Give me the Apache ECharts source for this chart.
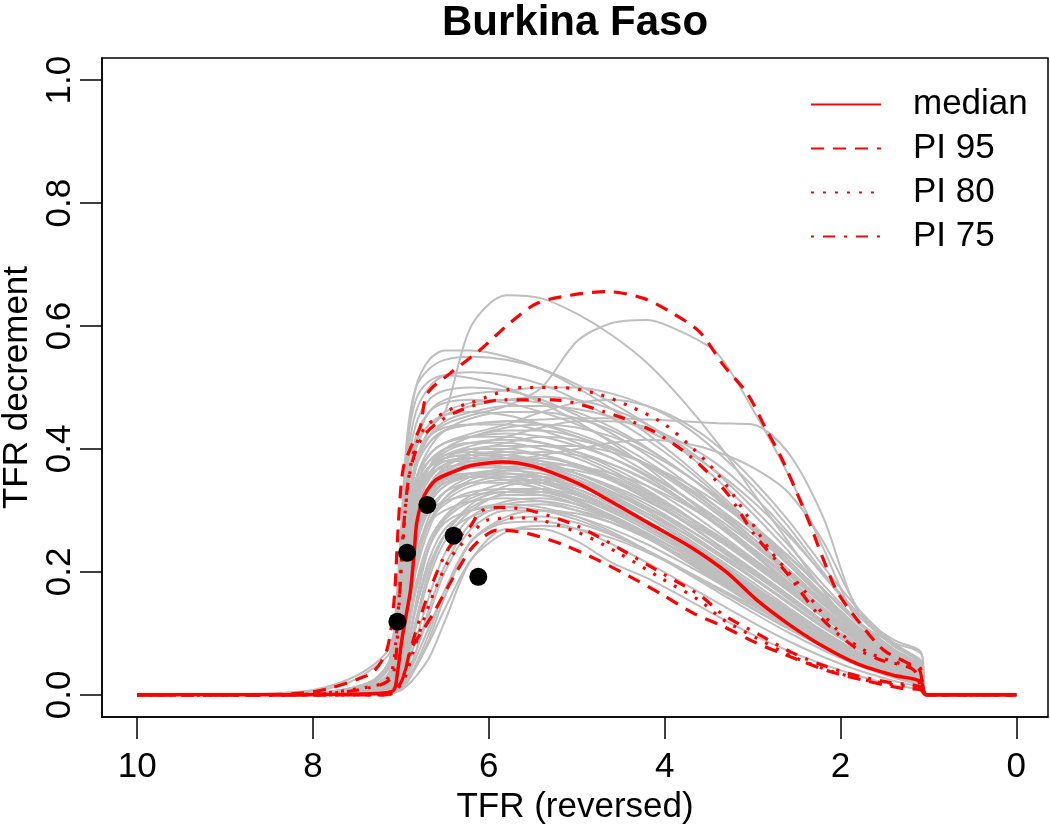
<!DOCTYPE html>
<html><head><meta charset="utf-8">
<script src="https://cdn.jsdelivr.net/npm/echarts@6/dist/echarts.min.js"></script>
<style>html,body{margin:0;padding:0;background:#fff}#c{width:1050px;height:828px}</style>
</head><body><div id="c"></div>
<script>
const titleText = 'Burkina Faso';
const xTicks = [0, 2, 4, 6, 8, 10];
const yTicks = [0, 0.2, 0.4, 0.6, 0.8, 1.0];

// x positions shared by all gray trajectories
const grayX = [10, 8.6, 8.0, 7.6, 7.3, 7.12, 7.02, 6.93, 6.83, 6.68, 6.5, 6.2, 5.8, 5.4, 5.0, 4.6, 4.2, 3.8, 3.4, 3.0, 2.6, 2.2, 1.8, 1.4, 1.08, 1.03, 0];
const grayTrajectories = [
[0, 0,0,0,0,.002,.006,.015,.03,.06,.12,.22,.27,.27,.25,.215,.19,.16,.128,.098,.072,.05,.031,.016,.008, 0,0],
[0, 0,0,0,.001,.003,.008,.02,.045,.09,.16,.25,.285,.29,.28,.26,.235,.205,.175,.145,.113,.083,.057,.035,.018, 0,0],
[0, 0,0,0,.001,.004,.012,.035,.07,.13,.2,.27,.3,.3,.29,.27,.245,.215,.183,.15,.118,.088,.06,.036,.02, 0,0],
[0, 0,0,.001,.003,.008,.03,.08,.14,.21,.26,.29,.305,.31,.3,.285,.26,.232,.2,.167,.132,.098,.068,.043,.025, 0,0],
[0, 0,0,.001,.003,.01,.05,.15,.23,.28,.3,.315,.32,.315,.3,.28,.255,.225,.192,.158,.124,.091,.062,.038,.02, 0,0],
[0, 0,0,.001,.004,.015,.07,.2,.27,.3,.315,.325,.33,.33,.32,.3,.275,.245,.21,.175,.138,.102,.07,.044,.025, 0,0],
[0, 0,0,.001,.003,.01,.04,.1,.17,.24,.28,.3,.305,.3,.285,.262,.234,.204,.172,.14,.108,.078,.052,.031,.016, 0,0],
[0, 0,.001,.003,.008,.02,.09,.22,.3,.335,.35,.36,.36,.35,.33,.305,.275,.242,.205,.168,.13,.095,.065,.04,.023, 0,0],
[0, 0,0,.002,.005,.015,.07,.19,.28,.33,.355,.37,.375,.37,.355,.33,.3,.265,.228,.19,.15,.11,.075,.046,.027, 0,0],
[0, 0,.001,.004,.012,.03,.12,.26,.33,.36,.37,.375,.37,.355,.335,.31,.28,.247,.212,.175,.137,.1,.068,.042,.024, 0,0],
[0, 0,0,.002,.006,.018,.08,.21,.3,.35,.375,.39,.395,.39,.375,.35,.32,.285,.245,.205,.163,.12,.082,.05,.03, 0,0],
[0, 0,0,.001,.004,.012,.05,.14,.24,.31,.35,.375,.39,.395,.39,.375,.35,.315,.275,.23,.183,.135,.09,.055,.032, 0,0],
[0, 0,.002,.006,.015,.04,.14,.28,.35,.38,.39,.395,.39,.375,.355,.33,.3,.265,.228,.19,.15,.11,.075,.046,.028, 0,0],
[0, 0,0,.002,.006,.02,.09,.23,.32,.37,.395,.41,.415,.41,.395,.37,.34,.305,.265,.222,.177,.13,.088,.054,.032, 0,0],
[0, 0,.001,.004,.01,.025,.1,.25,.34,.38,.4,.41,.41,.4,.385,.36,.33,.295,.255,.215,.172,.128,.088,.055,.033, 0,0],
[0, 0,0,.001,.004,.012,.06,.17,.27,.33,.37,.395,.41,.42,.415,.4,.375,.34,.3,.255,.205,.153,.104,.064,.038, 0,0],
[0, 0,.001,.003,.008,.022,.1,.24,.33,.37,.385,.39,.385,.37,.35,.325,.295,.26,.222,.183,.143,.104,.07,.043,.026, 0,0],
[0, 0,0,.002,.005,.016,.07,.2,.29,.34,.36,.37,.37,.365,.35,.33,.305,.275,.24,.2,.16,.118,.08,.049,.029, 0,0],
[0, 0,0,.001,.003,.01,.04,.12,.2,.27,.32,.35,.365,.37,.365,.35,.325,.295,.258,.218,.175,.13,.088,.054,.032, 0,0],
[0, 0,.001,.003,.009,.025,.11,.26,.34,.37,.38,.38,.37,.355,.335,.31,.28,.248,.213,.177,.14,.103,.07,.044,.026, 0,0],
[0, 0,.001,.004,.012,.03,.13,.3,.38,.42,.435,.44,.44,.43,.41,.385,.355,.318,.277,.232,.185,.137,.093,.058,.035, 0,0],
[0, 0,.002,.006,.016,.04,.15,.32,.4,.44,.455,.46,.455,.44,.42,.395,.362,.325,.283,.238,.19,.14,.095,.06,.037, 0,0],
[0, 0,.001,.003,.009,.025,.11,.27,.37,.43,.46,.475,.48,.475,.46,.435,.402,.363,.318,.268,.213,.157,.106,.066,.04, 0,0],
[0, 0,.002,.007,.02,.05,.18,.36,.44,.48,.495,.5,.495,.48,.455,.425,.39,.35,.305,.255,.203,.15,.102,.064,.04, 0,0],
[0, 0,.002,.008,.022,.055,.2,.38,.46,.5,.52,.525,.52,.505,.48,.45,.415,.373,.325,.272,.215,.158,.107,.067,.042, 0,0],
[0, 0,.003,.01,.025,.06,.22,.42,.5,.53,.545,.55,.545,.53,.505,.475,.44,.398,.35,.295,.235,.172,.116,.073,.046, 0,0],
[0, 0,.003,.01,.025,.06,.2,.4,.5,.545,.56,.56,.55,.53,.5,.465,.425,.38,.33,.277,.22,.162,.11,.07,.045, 0,0],
[0, 0,.001,.004,.012,.03,.12,.28,.38,.43,.455,.47,.48,.485,.48,.465,.44,.405,.36,.305,.245,.18,.12,.075,.047, 0,0],
[0, 0,.001,.004,.012,.03,.12,.28,.37,.41,.43,.44,.445,.448,.45,.45,.448,.445,.442,.44,.395,.29,.135,.09,.068, 0,0],
[0, 0,.002,.008,.02,.05,.18,.34,.41,.44,.46,.6,.65,.645,.62,.585,.54,.48,.41,.33,.25,.17,.1,.06,.045, 0,0],
[0, 0,.001,.005,.014,.035,.13,.3,.38,.42,.44,.455,.47,.5,.575,.605,.61,.59,.555,.465,.36,.24,.12,.085,.066, 0,0],
[0, 0,.001,.003,.008,.02,.08,.2,.29,.34,.36,.37,.38,.39,.4,.41,.415,.41,.395,.37,.33,.25,.14,.08,.055, 0,0],
[0, 0,.001,.004,.01,.026,.11,.26,.35,.39,.41,.425,.44,.46,.475,.48,.47,.445,.405,.35,.285,.21,.14,.085,.052, 0,0],
[0, 0,.001,.003,.009,.024,.1,.24,.33,.37,.39,.405,.42,.435,.445,.445,.435,.41,.375,.325,.265,.195,.13,.08,.05, 0,0],
[0, 0,.002,.006,.016,.04,.15,.32,.41,.46,.48,.49,.495,.5,.5,.49,.47,.44,.395,.34,.275,.2,.13,.08,.05, 0,0],
[0, 0,.003,.01,.025,.06,.2,.4,.48,.51,.52,.515,.5,.475,.445,.41,.37,.325,.278,.23,.18,.13,.088,.055,.035, 0,0],
[0, .002,.008,.025,.05,.08,.16,.28,.34,.37,.385,.39,.39,.38,.36,.335,.305,.27,.232,.192,.152,.112,.076,.047,.028, 0,0],
[0, .001,.006,.02,.045,.07,.13,.22,.29,.33,.35,.36,.36,.35,.33,.305,.277,.245,.21,.173,.136,.1,.068,.042,.025, 0,0],
[0, 0,.001,.003,.008,.02,.08,.2,.29,.34,.365,.38,.385,.38,.37,.35,.325,.295,.26,.222,.18,.135,.092,.057,.034, 0,0],
[0, 0,0,.002,.005,.014,.06,.16,.25,.31,.34,.355,.36,.355,.34,.32,.295,.265,.232,.197,.16,.12,.082,.051,.03, 0,0],
[0, 0,.001,.003,.008,.022,.09,.23,.31,.355,.375,.385,.385,.375,.36,.34,.315,.285,.252,.215,.175,.132,.09,.056,.034, 0,0],
[0, 0,0,.002,.005,.015,.065,.18,.27,.32,.345,.355,.355,.345,.325,.3,.272,.24,.205,.17,.133,.097,.066,.041,.024, 0,0],
[0, 0,.001,.004,.011,.028,.12,.27,.35,.39,.41,.42,.425,.42,.405,.385,.358,.325,.287,.245,.198,.148,.1,.062,.037, 0,0],
[0, 0,0,.002,.006,.018,.08,.21,.31,.37,.4,.42,.43,.43,.42,.4,.375,.343,.305,.262,.213,.16,.108,.067,.04, 0,0],
[0, 0,0,.001,.004,.01,.04,.12,.21,.28,.32,.345,.355,.355,.345,.327,.303,.274,.24,.203,.163,.12,.081,.05,.029, 0,0],
[0, 0,0,0,.001,.003,.01,.03,.06,.11,.17,.25,.29,.3,.295,.28,.255,.225,.192,.158,.123,.09,.061,.037,.019, 0,0],
[0, 0,0,0,.001,.004,.015,.045,.09,.16,.23,.29,.315,.32,.31,.29,.263,.23,.195,.16,.125,.092,.062,.038,.02, 0,0],
[0, 0,0,.001,.002,.006,.022,.06,.12,.2,.26,.305,.325,.325,.31,.285,.255,.222,.188,.153,.119,.087,.058,.035,.018, 0,0],
[0, 0,0,.001,.003,.008,.035,.1,.18,.25,.29,.32,.335,.335,.32,.297,.268,.235,.2,.164,.128,.094,.063,.039,.021, 0,0],
[0, 0,0,.001,.003,.009,.04,.12,.21,.28,.315,.34,.35,.345,.33,.305,.275,.24,.203,.165,.128,.093,.062,.038,.02, 0,0],
[0, 0,0,.001,.004,.012,.055,.16,.25,.31,.34,.36,.365,.36,.345,.32,.29,.255,.217,.178,.139,.101,.068,.042,.023, 0,0],
[0, 0,.001,.003,.008,.02,.085,.21,.29,.33,.35,.355,.35,.335,.315,.29,.262,.231,.198,.163,.128,.094,.064,.04,.022, 0,0],
[0, 0,0,.002,.005,.016,.075,.2,.29,.34,.365,.38,.38,.375,.36,.338,.31,.276,.238,.198,.157,.116,.079,.049,.028, 0,0],
[0, 0,.001,.003,.008,.022,.1,.25,.33,.37,.39,.4,.4,.39,.372,.348,.318,.283,.244,.203,.161,.119,.081,.05,.029, 0,0],
[0, 0,0,.002,.006,.018,.085,.22,.31,.36,.385,.4,.405,.405,.395,.375,.348,.315,.277,.235,.19,.142,.097,.06,.035, 0,0],
[0, 0,.001,.004,.01,.026,.11,.27,.35,.39,.41,.42,.42,.41,.39,.365,.333,.297,.257,.215,.171,.127,.086,.053,.031, 0,0],
[0, 0,0,.002,.006,.018,.08,.21,.31,.37,.4,.42,.435,.44,.435,.42,.395,.362,.322,.277,.227,.172,.118,.073,.043, 0,0],
[0, 0,.001,.004,.012,.03,.12,.29,.37,.41,.43,.44,.445,.44,.425,.403,.373,.336,.294,.248,.199,.148,.1,.062,.037, 0,0],
[0, 0,.001,.003,.009,.024,.1,.25,.35,.4,.43,.45,.46,.46,.45,.43,.4,.363,.32,.272,.22,.164,.111,.069,.042, 0,0],
[0, 0,.002,.006,.016,.04,.15,.33,.42,.46,.475,.48,.475,.46,.44,.413,.38,.342,.298,.25,.2,.148,.1,.062,.038, 0,0],
[0, 0,0,.001,.004,.012,.05,.15,.25,.32,.36,.385,.4,.405,.405,.395,.375,.348,.313,.272,.225,.172,.119,.074,.044, 0,0],
[0, 0,0,.001,.003,.009,.04,.12,.22,.29,.33,.355,.37,.375,.372,.36,.34,.312,.278,.238,.195,.147,.101,.063,.037, 0,0],
[0, 0,.001,.003,.008,.02,.09,.23,.32,.36,.38,.385,.38,.365,.343,.315,.283,.247,.208,.168,.128,.091,.06,.036,.019, 0,0],
[0, 0,.001,.004,.011,.028,.12,.28,.37,.42,.445,.46,.47,.47,.465,.452,.43,.4,.362,.315,.26,.197,.133,.082,.05, 0,0],
[0, 0,0,.002,.005,.015,.065,.18,.28,.34,.37,.39,.395,.39,.375,.352,.323,.29,.253,.212,.17,.127,.086,.053,.031, 0,0],
[0, 0,0,0,.001,.003,.009,.025,.05,.1,.17,.25,.28,.282,.27,.245,.215,.183,.15,.118,.088,.062,.04,.023,.011, 0,0],
[0, 0,0,.001,.002,.006,.025,.07,.14,.22,.27,.3,.31,.305,.29,.265,.235,.202,.168,.134,.102,.073,.048,.028,.014, 0,0],
[0, 0,0,.001,.003,.01,.045,.14,.24,.3,.33,.345,.345,.335,.315,.288,.256,.221,.184,.147,.112,.08,.053,.032,.016, 0,0],
[0, 0,0,.001,.004,.013,.06,.18,.27,.32,.345,.355,.355,.345,.327,.302,.272,.238,.2,.162,.124,.089,.059,.036,.019, 0,0],
[0, 0,0,0,.001,.003,.01,.03,.07,.14,.21,.28,.31,.315,.305,.285,.258,.226,.192,.156,.12,.087,.058,.034,.017, 0,0],
[0, 0,0,0,.001,.004,.014,.05,.11,.19,.25,.3,.33,.335,.325,.305,.278,.245,.209,.171,.133,.097,.065,.039,.02, 0,0],
[0, 0,0,.001,.002,.006,.02,.07,.15,.24,.29,.325,.345,.35,.34,.318,.29,.256,.218,.178,.138,.1,.067,.04,.021, 0,0],
[0, 0,0,0,.001,.003,.008,.022,.045,.085,.14,.22,.265,.275,.27,.255,.232,.204,.173,.141,.109,.079,.053,.031,.015, 0,0],
[0, 0,0,.001,.003,.008,.03,.09,.17,.24,.285,.315,.33,.325,.31,.287,.258,.225,.19,.154,.118,.085,.056,.033,.016, 0,0],
[0, 0,0,.001,.002,.005,.018,.055,.12,.2,.26,.31,.34,.345,.335,.31,.278,.242,.204,.165,.127,.092,.061,.036,.018, 0,0],
[0, 0,0,.001,.003,.01,.045,.13,.22,.28,.31,.33,.335,.33,.315,.292,.263,.23,.194,.157,.12,.086,.057,.034,.017, 0,0],
[0, 0,.001,.003,.008,.02,.09,.22,.3,.34,.355,.36,.355,.34,.318,.29,.258,.223,.186,.149,.113,.08,.052,.031,.016, 0,0],
[0, 0,0,.002,.005,.015,.07,.19,.28,.33,.36,.375,.38,.37,.35,.323,.29,.254,.215,.175,.135,.098,.066,.04,.022, 0,0],
[0, 0,0,.001,.004,.012,.055,.16,.26,.32,.355,.375,.385,.385,.375,.355,.328,.295,.257,.216,.173,.129,.088,.054,.031, 0,0]
];

const medianX = [10, 8.5, 7.6, 7.2, 7.08, 7.04, 6.99, 6.94, 6.89, 6.85, 6.82, 6.76, 6.70, 6.6, 6.4, 6.2, 5.84, 5.5, 5.0, 4.7, 4.2, 3.71, 3.3, 2.95, 2.6, 2.2, 1.8, 1.4, 1.09, 1.02, 0];
const medianY = [0, 0, .001, .003, .008, .035, .089, .13, .171, .23, .28, .315, .333, .35, .363, .373, .379, .372, .345, .322, .281, .241, .2, .154, .116, .079, .05, .032, .022, 0, 0];

const pi95UpX = [10, 8.5, 8.0, 7.8, 7.5, 7.31, 7.16, 7.08, 7.04, 7.01, 6.97, 6.88, 6.78, 6.7, 6.44, 6.1, 5.76, 5.45, 5.07, 4.66, 4.24, 3.9, 3.6, 3.33, 3.06, 2.86, 2.67, 2.5, 2.34, 2.2, 2.03, 1.78, 1.51, 1.24, 1.1, 1.02, 0];
const pi95UpY = [0, 0, .005, .011, .025, .038, .073, .15, .25, .32, .371, .405, .436, .49, .523, .561, .605, .637, .65, .656, .645, .62, .59, .536, .49, .436, .385, .33, .275, .222, .166, .117, .073, .052, .04, 0, 0];
const pi95LoX = [10, 7.2, 7.08, 7.0, 6.95, 6.89, 6.75, 6.63, 6.44, 6.21, 6.05, 5.91, 5.57, 5.15, 4.77, 4.39, 4.05, 3.675, 3.33, 2.95, 2.57, 2.12, 1.74, 1.32, 1.09, 1.02, 0];
const pi95LoY = [0, 0, .005, .02, .04, .073, .105, .133, .182, .236, .258, .268, .263, .244, .22, .192, .165, .133, .111, .084, .062, .038, .024, .011, .008, 0, 0];

const pi80UpX = [10, 8.3, 7.8, 7.4, 7.2, 7.1, 7.05, 7.0, 6.95, 6.88, 6.75, 6.5, 6.21, 5.61, 5.19, 4.77, 4.39, 4.02, 3.71, 3.4, 3.1, 2.8, 2.42, 2.04, 1.7, 1.3, 1.1, 1.02, 0];
const pi80UpY = [0, 0, .004, .012, .02, .04, .1, .2, .3, .38, .43, .46, .475, .5, .5, .49, .469, .442, .405, .36, .30, .235, .171, .106, .07, .05, .045, 0, 0];
const pi80LoX = [10, 7.15, 7.05, 6.95, 6.86, 6.67, 6.45, 6.21, 6.0, 5.6, 5.0, 4.54, 4.02, 3.6, 3.33, 2.95, 2.57, 2.2, 1.81, 1.43, 1.09, 1.02, 0];
const pi80LoY = [0, 0, .008, .03, .07, .15, .22, .26, .285, .288, .265, .232, .188, .153, .122, .092, .064, .043, .027, .017, .011, 0, 0];

const pi75UpX = [10, 8.2, 7.7, 7.35, 7.15, 7.07, 7.02, 6.97, 6.9, 6.75, 6.4, 5.84, 5.27, 4.7, 4.16, 3.71, 3.29, 2.99, 2.61, 2.23, 1.855, 1.55, 1.17, 1.02, 0];
const pi75UpY = [0, 0, .004, .012, .022, .045, .15, .27, .36, .42, .458, .48, .48, .461, .431, .388, .328, .263, .198, .127, .079, .057, .041, 0, 0];
const pi75LoX = [10, 7.2, 7.05, 6.95, 6.86, 6.67, 6.45, 6.21, 6.1, 5.9, 5.53, 5.0, 4.54, 4.02, 3.6, 3.33, 2.95, 2.57, 2.2, 1.81, 1.43, 1.09, 1.02, 0];
const pi75LoY = [0, 0, .01, .04, .089, .171, .24, .274, .298, .305, .30, .275, .24, .197, .162, .13, .1, .07, .048, .031, .02, .013, 0, 0];

const obsX = [7.04, 6.93, 6.70, 6.40, 6.12];
const obsY = [0.119, 0.231, 0.309, 0.259, 0.192];

const legendNames = ['median', 'PI 95', 'PI 80', 'PI 75'];

const FONT = '"Liberation Sans", Arial, Helvetica, sans-serif';
const zip = (xs, ys) => xs.map((x, i) => [x, ys[i]]);
const series = [];
grayTrajectories.forEach(ys => series.push({
  type: 'line', data: zip(grayX, ys), symbol: 'none', showSymbol: false, smooth: 0.3,
  lineStyle: { color: '#BEBEBE', width: 2 }, silent: true, z: 1, animation: false
}));
function red(name, xs, ys, dash, w) {
  series.push({
    name, type: 'line', data: zip(xs, ys), symbol: 'none', showSymbol: false, smooth: 0.3,
    lineStyle: { color: '#FF0000', width: w, type: dash, cap: 'butt' },
    itemStyle: { color: '#FF0000' }, z: 3, silent: true, animation: false
  });
}
red('median', medianX, medianY, 'solid', 3.5);
red('PI 95', pi95UpX, pi95UpY, [13, 9], 3.2);
red('PI 95', pi95LoX, pi95LoY, [13, 9], 3.2);
red('PI 80', pi80UpX, pi80UpY, [3, 9], 3.2);
red('PI 80', pi80LoX, pi80LoY, [3, 9], 3.2);
red('PI 75', pi75UpX, pi75UpY, [3, 9, 12, 9], 3.2);
red('PI 75', pi75LoX, pi75LoY, [3, 9, 12, 9], 3.2);
series.push({ type: 'scatter', data: zip(obsX, obsY), symbol: 'circle', symbolSize: 18,
  itemStyle: { color: '#000', opacity: 1 }, z: 5, silent: true, animation: false });

const chart = echarts.init(document.getElementById('c'), null, { renderer: 'canvas' });
chart.setOption({
  animation: false,
  backgroundColor: '#fff',
  graphic: [{ type: 'text', x: 575, y: 23, style: { text: titleText, font: 'bold 42px ' + FONT, fill: '#000',
    align: 'center', verticalAlign: 'middle', textAlign: 'center', textVerticalAlign: 'middle' } }],
  legend: {
    data: legendNames, orient: 'vertical', left: 810, top: 87, padding: 0,
    itemWidth: 70, itemHeight: 20, itemGap: 9,
    selectedMode: false,
    itemStyle: { opacity: 0 },
    textStyle: { fontFamily: FONT, fontSize: 35, color: '#000', lineHeight: 34, padding: [0, 0, 0, 27] }
  },
  grid: { left: 102, right: 2, top: 58, bottom: 111, show: true, borderColor: '#000', borderWidth: 1.5,
    backgroundColor: 'transparent', containLabel: false, outerBoundsMode: 'none' },
  xAxis: {
    type: 'value', inverse: true, min: -0.36, max: 10.4,
    splitLine: { show: false },
    axisLine: { show: true, onZero: false, lineStyle: { color: '#000', width: 1.5 } },
    axisTick: { show: true, inside: false, length: 22, customValues: xTicks, lineStyle: { color: '#000', width: 1.5 } },
    axisLabel: { customValues: xTicks, margin: 33, fontSize: 35, color: '#000', fontFamily: FONT, formatter: v => String(v) },
    name: 'TFR (reversed)', nameLocation: 'middle', nameGap: 63,
    nameTextStyle: { fontSize: 35, fontFamily: FONT, color: '#000' }
  },
  yAxis: {
    type: 'value', min: -0.036, max: 1.036,
    splitLine: { show: false },
    axisLine: { show: true, onZero: false, lineStyle: { color: '#000', width: 1.5 } },
    axisTick: { show: true, inside: false, length: 22, customValues: yTicks, lineStyle: { color: '#000', width: 1.5 } },
    axisLabel: { customValues: yTicks, rotate: 90, margin: 24, fontSize: 35, color: '#000', fontFamily: FONT, formatter: v => v.toFixed(1) },
    name: 'TFR decrement', nameLocation: 'middle', nameGap: 63, nameRotate: 90,
    nameTextStyle: { fontSize: 35, fontFamily: FONT, color: '#000' }
  },
  series
});
</script></body></html>
